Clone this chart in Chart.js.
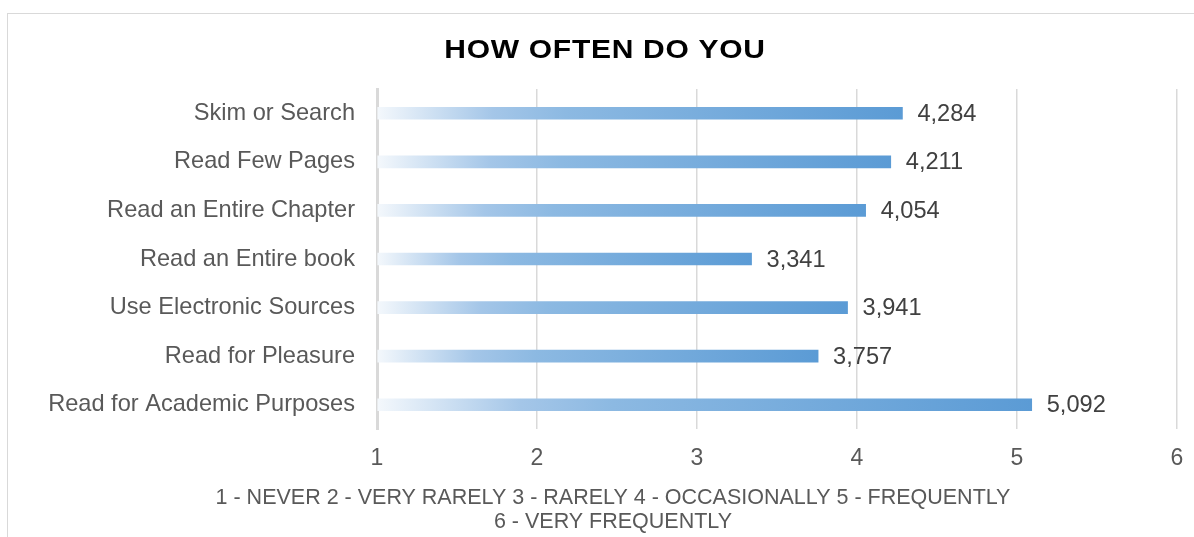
<!DOCTYPE html>
<html>
<head>
<meta charset="utf-8">
<script src="https://cdn.jsdelivr.net/npm/chart.js@4/dist/chart.umd.min.js"></script>
<style>
  body { margin: 0; background: #fff; overflow: hidden; }
  .frame { position: absolute; left: 7px; top: 13px; width: 1200px; height: 540px; border: 1px solid #d9d9d9; }
  #chart { position: absolute; left: 0; top: 0; }
</style>
</head>
<body>
<div class="frame"></div>
<canvas id="chart" width="1194" height="537"></canvas>
<script>
// data (scale 1..6, shown with a decimal comma)
const categories = [
    'Skim or Search',
    'Read Few Pages',
    'Read an Entire Chapter',
    'Read an Entire book',
    'Use Electronic Sources',
    'Read for Pleasure',
    'Read for Academic Purposes',
];
const scores = [4.284, 4.211, 4.054, 3.341, 3.941, 3.757, 5.092];
const axisMin = 1;
const axisMax = 6;
const chartTitle = 'HOW OFTEN DO YOU';
const scaleLegend = [
    '1 - NEVER 2 - VERY RARELY 3 - RARELY 4 - OCCASIONALLY 5 - FREQUENTLY',
    '6 - VERY FREQUENTLY',
];

const GREY = '#595959';
const GRID = '#d9d9d9';
const FONT = '"Liberation Sans", Arial, sans-serif';
Chart.defaults.font.family = FONT;

function fmt(v) {
    return v.toFixed(3).replace('.', ',');
}

// each bar fades from near-white at the axis to full blue at its end
function barFill(ctx) {
    const chart = ctx.chart;
    if (!chart.chartArea || ctx.raw == null) return '#5b9bd5';
    const x = chart.scales.x;
    const x0 = x.getPixelForValue(axisMin);
    const x1 = x.getPixelForValue(ctx.raw);
    const g = chart.ctx.createLinearGradient(x0, 0, x1, 0);
    g.addColorStop(0, '#f4f8fc');
    g.addColorStop(0.22, '#a4c6e8');
    g.addColorStop(0.36, '#8cb9e2');
    g.addColorStop(1, '#5b9bd5');
    return g;
}

// title (wide, heavy caps) and the scale key under the x axis
const texts = {
    id: 'texts',
    afterDraw(chart) {
        const c = chart.ctx;
        c.save();
        c.textAlign = 'center';
        c.textBaseline = 'middle';
        c.save();
        c.translate(605, 51);
        c.scale(1.2, 1);
        c.font = 'bold 25px ' + FONT;
        c.letterSpacing = '0.6px';
        c.fillStyle = '#000';
        c.fillText(chartTitle, 0, 0);
        c.restore();
        c.font = '21.5px ' + FONT;
        c.fillStyle = GREY;
        scaleLegend.forEach((line, i) => c.fillText(line, 613, 498 + i * 24));
        c.restore();
    },
};

const valueLabels = {
    id: 'valueLabels',
    afterDatasetsDraw(chart) {
        const c = chart.ctx;
        const meta = chart.getDatasetMeta(0);
        c.save();
        c.font = '23.6px ' + FONT;
        c.fillStyle = '#404040';
        c.textAlign = 'left';
        c.textBaseline = 'middle';
        meta.data.forEach((bar, i) => {
            c.fillText(fmt(scores[i]), bar.x + 15, bar.y + 1);
        });
        c.restore();
    },
};

new Chart(document.getElementById('chart'), {
    type: 'bar',
    data: {
        labels: categories,
        datasets: [{
            data: scores,
            base: axisMin,
            backgroundColor: barFill,
            borderWidth: 0,
            barThickness: 12,
        }],
    },
    options: {
        indexAxis: 'y',
        responsive: false,
        animation: false,
        layout: { padding: { left: 10, right: 17, top: 89, bottom: 0 } },
        plugins: {
            legend: { display: false },
            tooltip: { enabled: false },
        },
        scales: {
            x: {
                min: axisMin,
                max: axisMax,
                ticks: {
                    stepSize: 1,
                    color: GREY,
                    font: { size: 23 },
                    padding: 16,
                },
                grid: { color: GRID, lineWidth: 1.5, drawTicks: false },
                border: { display: false },
                afterFit(scale) {
                    scale.height = 108;
                    scale.paddingLeft = 0;
                    scale.paddingRight = 0;
                },
            },
            y: {
                ticks: {
                    color: GREY,
                    font: { size: 23.6 },
                    padding: 22,
                },
                grid: { display: false, drawTicks: false },
                border: { display: true, color: GRID, width: 3 },
                afterFit(scale) { scale.width = 367; },
            },
        },
    },
    plugins: [texts, valueLabels],
});
</script>
</body>
</html>
